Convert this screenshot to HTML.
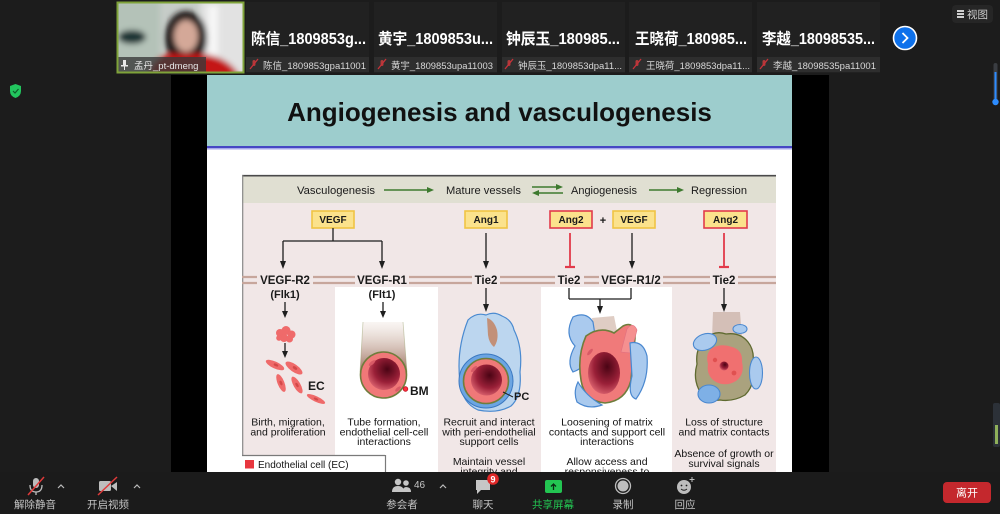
<!DOCTYPE html>
<html><head><meta charset="utf-8">
<style>
html,body{margin:0;padding:0;background:#1c1c1c;}
body{width:1000px;height:514px;overflow:hidden;position:relative;}
svg{position:absolute;left:0;top:0;display:block;}
text{font-family:"Liberation Sans","Noto Sans CJK SC",sans-serif;}
</style></head>
<body>
<svg width="1000" height="514" viewBox="0 0 1000 514" xmlns="http://www.w3.org/2000/svg">
<defs>
 <filter id="blur" x="-20%" y="-20%" width="140%" height="140%"><feGaussianBlur stdDeviation="3"/></filter>
 <filter id="blur1"><feGaussianBlur stdDeviation="0.6"/></filter>
 <linearGradient id="tubeG" x1="0" y1="0" x2="0" y2="1">
  <stop offset="0" stop-color="#d8c0b0" stop-opacity="0.15"/>
  <stop offset="1" stop-color="#9a6e5e"/>
 </linearGradient>
 <radialGradient id="lumen" cx="0.6" cy="0.35" r="0.75">
  <stop offset="0" stop-color="#4a0414"/>
  <stop offset="0.55" stop-color="#9a2038"/>
  <stop offset="1" stop-color="#e8707a"/>
 </radialGradient>
 <clipPath id="camclip"><rect x="118" y="3" width="125" height="69"/></clipPath>
</defs>

<!-- page bg -->
<rect x="0" y="0" width="1000" height="514" fill="#1c1c1c"/>

<!-- ===== Top video strip ===== -->
<g clip-path="url(#camclip)">
 <rect x="118" y="3" width="125" height="69" fill="#c6ccc8"/>
 <g filter="url(#blur)">
  <rect x="112" y="0" width="48" height="75" fill="#b4c2b8"/>
  <ellipse cx="132" cy="37" rx="14" ry="7" fill="#1b3434"/>
  <rect x="200" y="0" width="46" height="75" fill="#e2e2e2"/>
  <rect x="208" y="6" width="10" height="50" fill="#f6f6f6"/>
  <ellipse cx="186" cy="38" rx="21" ry="27" fill="#1a1212"/>
  <ellipse cx="186" cy="36" rx="12" ry="16" fill="#d4a898"/>
  <path d="M148 76 Q152 56 170 54 L202 54 Q228 56 240 76 Z" fill="#c41818"/>
 </g>
 <rect x="118" y="57" width="88" height="15" fill="#3a3a3a" opacity="0.8"/>
</g>
<rect x="117.5" y="2.5" width="126" height="70" fill="none" stroke="#7fa33a" stroke-width="2"/>
<rect x="123" y="60" width="3" height="6" fill="#e8e8e8"/><rect x="121" y="65" width="7" height="1.5" fill="#e8e8e8"/><rect x="124" y="66" width="1" height="4" fill="#e8e8e8"/>
<text x="134" y="69" font-size="9.5" fill="#e6e6e6">孟丹_pt-dmeng</text>

<!-- other tiles -->
<g>
 <rect x="246" y="2" width="123" height="71" fill="#212121"/>
 <rect x="374" y="2" width="123" height="71" fill="#212121"/>
 <rect x="502" y="2" width="123" height="71" fill="#212121"/>
 <rect x="629" y="2" width="123" height="71" fill="#212121"/>
 <rect x="757" y="2" width="123" height="71" fill="#212121"/>
 <rect x="246" y="57" width="123" height="15" fill="#2e2e2e"/>
 <rect x="374" y="57" width="123" height="15" fill="#2e2e2e"/>
 <rect x="502" y="57" width="123" height="15" fill="#2e2e2e"/>
 <rect x="629" y="57" width="123" height="15" fill="#2e2e2e"/>
 <rect x="757" y="57" width="123" height="15" fill="#2e2e2e"/>
</g>
<g font-size="15.5" font-weight="bold" fill="#ffffff">
 <text x="251" y="44" textLength="115" lengthAdjust="spacingAndGlyphs">陈信_1809853g...</text>
 <text x="378" y="44" textLength="115" lengthAdjust="spacingAndGlyphs">黄宇_1809853u...</text>
 <text x="506" y="44" textLength="114" lengthAdjust="spacingAndGlyphs">钟辰玉_180985...</text>
 <text x="635" y="44" textLength="112" lengthAdjust="spacingAndGlyphs">王晓荷_180985...</text>
 <text x="762" y="44" textLength="113" lengthAdjust="spacingAndGlyphs">李越_18098535...</text>
</g>
<!-- muted mic icons on tiles -->
<g stroke="#c8323a" stroke-width="1.3" fill="none">
 <g transform="translate(254,64)"><rect x="-1.5" y="-4" width="3" height="6" rx="1.5" fill="#b03a3a" stroke="none"/><line x1="-4" y1="5" x2="4" y2="-5"/></g>
 <g transform="translate(382,64)"><rect x="-1.5" y="-4" width="3" height="6" rx="1.5" fill="#b03a3a" stroke="none"/><line x1="-4" y1="5" x2="4" y2="-5"/></g>
 <g transform="translate(509,64)"><rect x="-1.5" y="-4" width="3" height="6" rx="1.5" fill="#b03a3a" stroke="none"/><line x1="-4" y1="5" x2="4" y2="-5"/></g>
 <g transform="translate(637,64)"><rect x="-1.5" y="-4" width="3" height="6" rx="1.5" fill="#b03a3a" stroke="none"/><line x1="-4" y1="5" x2="4" y2="-5"/></g>
 <g transform="translate(764,64)"><rect x="-1.5" y="-4" width="3" height="6" rx="1.5" fill="#b03a3a" stroke="none"/><line x1="-4" y1="5" x2="4" y2="-5"/></g>
</g>
<g font-size="9.5" fill="#d8d8d8">
 <text x="263" y="69" textLength="103" lengthAdjust="spacingAndGlyphs">陈信_1809853gpa11001</text>
 <text x="391" y="69" textLength="102" lengthAdjust="spacingAndGlyphs">黄宇_1809853upa11003</text>
 <text x="518" y="69" textLength="104" lengthAdjust="spacingAndGlyphs">钟辰玉_1809853dpa11...</text>
 <text x="646" y="69" textLength="104" lengthAdjust="spacingAndGlyphs">王晓荷_1809853dpa11...</text>
 <text x="773" y="69" textLength="103" lengthAdjust="spacingAndGlyphs">李越_18098535pa11001</text>
</g>
<!-- next button -->
<circle cx="905" cy="38" r="11.5" fill="#0e71eb" stroke="#ffffff" stroke-width="1.6"/>
<path d="M902.5 33 L907.5 38 L902.5 43" fill="none" stroke="#fff" stroke-width="1.8"/>
<!-- view button -->
<rect x="952" y="5" width="41" height="18" rx="4" fill="#262626"/>
<g fill="#cfcfcf"><rect x="957" y="10" width="7" height="2"/><rect x="957" y="13" width="7" height="2"/><rect x="957" y="16" width="7" height="2"/></g>
<text x="967" y="18" font-size="10.5" fill="#cfcfcf">视图</text>
<!-- right slider -->
<rect x="993.5" y="63" width="4" height="42" rx="2" fill="#3a3d42"/>
<rect x="994.5" y="72" width="2" height="31" fill="#2d8cff"/>
<circle cx="995.5" cy="102" r="3.2" fill="#2d8cff"/>
<rect x="993" y="403" width="7" height="44" rx="2" fill="#2c3138"/>
<rect x="995" y="425" width="3" height="19" fill="#8fb05a"/>
<!-- shield -->
<path d="M10 86 L15.5 84 L21 86 L21 91 Q21 96 15.5 98 Q10 96 10 91 Z" fill="#22c55e"/>
<path d="M13 91 L15 93 L18.5 89" fill="none" stroke="#0f5a2a" stroke-width="1.2"/>

<!-- ===== Slide area ===== -->
<rect x="171" y="75" width="658" height="397" fill="#000"/>
<rect x="207" y="75" width="585" height="397" fill="#ffffff"/>
<rect x="207" y="75" width="585" height="71" fill="#9dcdcd"/>
<rect x="207" y="146" width="585" height="2" fill="#4646c4"/>
<rect x="207" y="148" width="585" height="1.5" fill="#a6a6ea"/>
<text x="499.5" y="121" font-size="26" font-weight="bold" fill="#111" text-anchor="middle">Angiogenesis and vasculogenesis</text>

<!-- diagram box -->
<rect x="242" y="175" width="534" height="28" fill="#e0dfd2"/>
<rect x="242" y="203" width="534" height="269" fill="#f1e7e7"/>
<rect x="335" y="287" width="103" height="185" fill="#ffffff"/>
<rect x="541" y="287" width="131" height="185" fill="#ffffff"/>
<rect x="242" y="455" width="93" height="17" fill="#ffffff"/>
<line x1="242" y1="175.7" x2="776" y2="175.7" stroke="#4a4a4a" stroke-width="1.6"/>
<line x1="242.7" y1="175" x2="242.7" y2="455" stroke="#8a8a8a" stroke-width="1.2"/>
<line x1="242" y1="455.5" x2="385" y2="455.5" stroke="#7a7a7a" stroke-width="1.2"/>
<line x1="385.5" y1="455" x2="385.5" y2="472" stroke="#7a7a7a" stroke-width="1.2"/>

<!-- header texts -->
<g font-size="11" fill="#1a1a1a">
 <text x="297" y="194" textLength="78" lengthAdjust="spacingAndGlyphs">Vasculogenesis</text>
 <text x="446" y="194" textLength="75" lengthAdjust="spacingAndGlyphs">Mature vessels</text>
 <text x="571" y="194" textLength="66" lengthAdjust="spacingAndGlyphs">Angiogenesis</text>
 <text x="691" y="194" textLength="56" lengthAdjust="spacingAndGlyphs">Regression</text>
</g>
<g stroke="#3d7a2e" stroke-width="1.6" fill="#3d7a2e">
 <line x1="384" y1="190" x2="428" y2="190"/><polygon points="434,190 427,187 427,193" stroke="none"/>
 <line x1="532" y1="187" x2="557" y2="187"/><polygon points="563,187 556,184 556,190" stroke="none"/>
 <line x1="538" y1="193" x2="563" y2="193"/><polygon points="532,193 539,190 539,196" stroke="none"/>
 <line x1="649" y1="190" x2="678" y2="190"/><polygon points="684,190 677,187 677,193" stroke="none"/>
</g>

<!-- ligand boxes -->
<g stroke-width="1.6">
 <rect x="312" y="211" width="42" height="17" fill="#fbe28c" stroke="#f0c444"/>
 <rect x="465" y="211" width="42" height="17" fill="#fbe28c" stroke="#f0c444"/>
 <rect x="550" y="211" width="42" height="17" fill="#fbe28c" stroke="#e23b4b"/>
 <rect x="613" y="211" width="42" height="17" fill="#fbe28c" stroke="#f0c444"/>
 <rect x="704" y="211" width="43" height="17" fill="#fbe28c" stroke="#e23b4b"/>
</g>
<g font-size="10" font-weight="bold" fill="#1a1a1a" text-anchor="middle">
 <text x="333" y="223">VEGF</text>
 <text x="486" y="223">Ang1</text>
 <text x="571" y="223">Ang2</text>
 <text x="634" y="223">VEGF</text>
 <text x="725.5" y="223">Ang2</text>
</g>
<text x="603" y="224" font-size="11" font-weight="bold" fill="#1a1a1a" text-anchor="middle">+</text>

<!-- arrows to receptors -->
<g stroke="#1e1e1e" stroke-width="1.3" fill="none">
 <line x1="333" y1="228" x2="333" y2="241"/>
 <line x1="283" y1="241" x2="382" y2="241"/>
 <line x1="283" y1="241" x2="283" y2="262"/>
 <line x1="382" y1="241" x2="382" y2="262"/>
 <line x1="486" y1="233" x2="486" y2="262"/>
 <line x1="632" y1="233" x2="632" y2="262"/>
</g>
<g fill="#1e1e1e">
 <polygon points="283,269 280,261 286,261"/>
 <polygon points="382,269 379,261 385,261"/>
 <polygon points="486,269 483,261 489,261"/>
 <polygon points="632,269 629,261 635,261"/>
</g>
<g stroke="#e23b4b" stroke-width="1.8">
 <line x1="570" y1="233" x2="570" y2="267"/><line x1="565" y1="267" x2="575" y2="267" stroke-width="2.2"/>
 <line x1="724" y1="233" x2="724" y2="267"/><line x1="719" y1="267" x2="729" y2="267" stroke-width="2.2"/>
</g>

<!-- membrane -->
<g stroke="#c7a69c" stroke-width="2.2">
 <line x1="242" y1="277" x2="776" y2="277"/>
 <line x1="242" y1="283" x2="776" y2="283"/>
</g>
<g fill="#f1e7e7">
 <rect x="257" y="273" width="56" height="14"/>
 <rect x="355" y="273" width="54" height="14"/>
 <rect x="472" y="273" width="28" height="14"/>
 <rect x="555" y="273" width="29" height="14"/>
 <rect x="599" y="273" width="64" height="14"/>
 <rect x="710" y="273" width="28" height="14"/>
</g>
<g font-size="11.5" font-weight="bold" fill="#1a1a1a" text-anchor="middle">
 <text x="285" y="284">VEGF-R2</text>
 <text x="382" y="284">VEGF-R1</text>
 <text x="486" y="284">Tie2</text>
 <text x="569" y="284">Tie2</text>
 <text x="631" y="284">VEGF-R1/2</text>
 <text x="724" y="284">Tie2</text>
</g>
<g font-size="11" font-weight="bold" fill="#1a1a1a" text-anchor="middle">
 <text x="285" y="298">(Flk1)</text>
 <text x="382" y="298">(Flt1)</text>
</g>

<!-- lower arrows -->
<g stroke="#1e1e1e" stroke-width="1.3" fill="none">
 <line x1="285" y1="302" x2="285" y2="312"/>
 <line x1="285" y1="343" x2="285" y2="352"/>
 <line x1="383" y1="302" x2="383" y2="312"/>
 <line x1="486" y1="288" x2="486" y2="305"/>
 <line x1="569" y1="288" x2="569" y2="299"/>
 <line x1="631" y1="288" x2="631" y2="299"/>
 <line x1="569" y1="299" x2="631" y2="299"/>
 <line x1="600" y1="299" x2="600" y2="307"/>
 <line x1="724" y1="288" x2="724" y2="305"/>
</g>
<g fill="#1e1e1e">
 <polygon points="285,318 282,311 288,311"/>
 <polygon points="285,358 282,351 288,351"/>
 <polygon points="383,318 380,311 386,311"/>
 <polygon points="486,312 483,304 489,304"/>
 <polygon points="600,314 597,306 603,306"/>
 <polygon points="724,312 721,304 727,304"/>
</g>

<!-- Column 1: endothelial cells -->
<g fill="#ef6a6a">
 <circle cx="280" cy="333" r="4"/><circle cx="286" cy="330.5" r="4.5"/><circle cx="291.5" cy="334.5" r="4"/>
 <circle cx="284" cy="338" r="4"/><circle cx="289.5" cy="339" r="3.5"/><circle cx="279" cy="338" r="2.8"/>
 <ellipse cx="275" cy="365" rx="10" ry="3.4" transform="rotate(25 275 365)"/>
 <ellipse cx="294" cy="368" rx="10" ry="3.8" transform="rotate(35 294 368)"/>
 <ellipse cx="281" cy="383" rx="9.5" ry="3.4" transform="rotate(68 281 383)"/>
 <ellipse cx="297" cy="385" rx="9.5" ry="3.4" transform="rotate(60 297 385)"/>
 <ellipse cx="316" cy="399" rx="10" ry="2.8" transform="rotate(25 316 399)"/>
</g>
<g fill="#d34848">
 <ellipse cx="276" cy="365" rx="2.5" ry="1.3" transform="rotate(25 276 365)"/>
 <ellipse cx="295" cy="368" rx="2.5" ry="1.4" transform="rotate(35 295 368)"/>
 <ellipse cx="281" cy="383" rx="2.4" ry="1.3" transform="rotate(68 281 383)"/>
 <ellipse cx="297" cy="385" rx="2.4" ry="1.3" transform="rotate(60 297 385)"/>
 <ellipse cx="316" cy="399" rx="2.4" ry="1.1" transform="rotate(25 316 399)"/>
</g>
<text x="308" y="390" font-size="12" font-weight="bold" fill="#1a1a1a">EC</text>

<!-- Column 2: tube -->
<path d="M363 322 L403 322 L407 372 L360 372 Z" fill="url(#tubeG)"/>
<line x1="363" y1="322" x2="360" y2="372" stroke="#9aa070" stroke-width="0.8" opacity="0.5"/>
<line x1="403" y1="322" x2="407" y2="372" stroke="#9aa070" stroke-width="0.8" opacity="0.5"/>
<circle cx="383.5" cy="375" r="23" fill="#f07878" stroke="#6f7d3c" stroke-width="1.6"/>
<circle cx="384" cy="374" r="16" fill="url(#lumen)"/>
<ellipse cx="372" cy="363" rx="4" ry="1.6" fill="#d85a66" transform="rotate(-40 372 363)"/>
<ellipse cx="398" cy="389" rx="3.5" ry="1.6" fill="#d85a66" transform="rotate(-40 398 389)"/>
<circle cx="405.5" cy="389" r="2.3" fill="#ff3040" stroke="#c01020" stroke-width="0.8"/>
<text x="410" y="395" font-size="12" font-weight="bold" fill="#1a1a1a">BM</text>

<!-- Column 3: pericyte-covered vessel -->
<path d="M468 320 Q476 312 486 315 Q494 311 502 316 Q512 320 514 330 Q523 348 520 372 Q522 396 511 406 Q497 414 478 410 Q462 403 460 382 Q456 350 468 320 Z" fill="#bcd6ef" stroke="#4a8ad0" stroke-width="1.2"/>
<path d="M487 318 Q494 320 497 330 Q499 340 494 347 Q489 343 488 335 Z" fill="#c29078"/>
<circle cx="486" cy="381" r="27" fill="#6ba5e2" stroke="#3b78c0" stroke-width="1"/>
<circle cx="486" cy="381" r="22.5" fill="#f07878" stroke="#6f7d3c" stroke-width="1.6"/>
<circle cx="486.5" cy="380" r="15.5" fill="url(#lumen)"/>
<ellipse cx="474" cy="369" rx="4" ry="1.6" fill="#d85a66" transform="rotate(-45 474 369)"/>
<path d="M503 392 L513 397" stroke="#1a1a1a" stroke-width="1"/>
<text x="514" y="400" font-size="11" font-weight="bold" fill="#1a1a1a">PC</text>

<!-- Column 4: loosening vessel -->
<path d="M592 318 L614 316 L618 336 L595 338 Z" fill="#c4a494" opacity="0.55"/>
<path d="M573 317 Q586 311 593 322 L597 348 Q589 366 573 372 Q566 362 575 346 Q564 334 573 317 Z" fill="#aacaee" stroke="#4a88d0" stroke-width="1.2"/>
<path d="M586 336 Q600 326 614 333 L623 326 Q635 320 635 338 L631 380 Q626 401 605 403 Q584 401 581 380 Q577 356 586 336 Z" fill="#f07a7a" stroke="#6f7d3c" stroke-width="1.6"/>
<ellipse cx="604" cy="373" rx="16" ry="21" fill="url(#lumen)"/>
<path d="M621 352 L627 329 Q633 321 637 330 L631 353 Z" fill="#f59090" stroke="#e07080" stroke-width="0.6"/>
<path d="M630 343 Q643 340 647 356 Q649 381 636 399 Q627 396 632 376 Z" fill="#aacaee" stroke="#4a88d0" stroke-width="1.2"/>
<path d="M578 382 Q586 396 602 405 Q588 410 577 402 Q573 392 578 382 Z" fill="#aacaee" stroke="#4a88d0" stroke-width="1.2"/>
<ellipse cx="590" cy="352" rx="4" ry="1.6" fill="#d85a66" transform="rotate(-50 590 352)"/>

<!-- Column 5: regressing vessel -->
<path d="M713 312 L740 312 L742 338 L712 338 Z" fill="#b89888" opacity="0.5"/>
<path d="M706 338 Q715 330 726 334 Q740 332 748 342 Q756 352 752 368 Q756 384 745 395 Q733 402 720 400 Q705 402 699 390 Q693 378 697 364 Q695 348 706 338 Z" fill="#aaa27e" stroke="#5f6a30" stroke-width="1.3"/>
<path d="M712 348 Q722 343 732 347 Q743 350 742 362 Q745 374 736 381 Q726 387 716 382 Q706 376 708 364 Q705 354 712 348 Z" fill="#f07070"/>
<circle cx="724" cy="366" r="4.5" fill="url(#lumen)"/>
<circle cx="715" cy="360" r="2.2" fill="#e05050"/><circle cx="734" cy="373" r="2.4" fill="#e05050"/>
<ellipse cx="705" cy="342" rx="12" ry="8" fill="#aacaee" stroke="#4a88d0" stroke-width="1.1" transform="rotate(-20 705 342)"/>
<ellipse cx="740" cy="329" rx="7" ry="4.5" fill="#aacaee" stroke="#4a88d0" stroke-width="1.1"/>
<ellipse cx="756" cy="373" rx="6.5" ry="16" fill="#aacaee" stroke="#4a88d0" stroke-width="1.1"/>
<ellipse cx="709" cy="394" rx="11" ry="9" fill="#7eb0e6" stroke="#4a88d0" stroke-width="1.1"/>

<!-- captions -->
<g font-size="10.5" fill="#141414" text-anchor="middle">
 <text x="288" y="425.5">Birth, migration,</text>
 <text x="288" y="435.5">and proliferation</text>
 <text x="384" y="425.5">Tube formation,</text>
 <text x="384" y="435.5">endothelial cell-cell</text>
 <text x="384" y="445">interactions</text>
 <text x="489" y="425.5">Recruit and interact</text>
 <text x="489" y="435.5">with peri-endothelial</text>
 <text x="489" y="445">support cells</text>
 <text x="489" y="465">Maintain vessel</text>
 <text x="489" y="475">integrity and</text>
 <text x="607" y="425.5">Loosening of matrix</text>
 <text x="607" y="435.5">contacts and support cell</text>
 <text x="607" y="445">interactions</text>
 <text x="607" y="465">Allow access and</text>
 <text x="607" y="475">responsiveness to</text>
 <text x="724" y="425.5">Loss of structure</text>
 <text x="724" y="435.5">and matrix contacts</text>
 <text x="724" y="457">Absence of growth or</text>
 <text x="724" y="467">survival signals</text>
</g>
<!-- legend -->
<rect x="245" y="460" width="9" height="8.5" fill="#e8373f"/>
<text x="258" y="468" font-size="10" fill="#141414">Endothelial cell (EC)</text>

<!-- ===== Bottom toolbar ===== -->
<rect x="0" y="472" width="1000" height="42" fill="#1b1b1b"/>
<!-- mic -->
<g>
 <rect x="33" y="478" width="6" height="10" rx="3" fill="#bdbdbd"/>
 <path d="M30 485 Q30 492 36 492 Q42 492 42 485" fill="none" stroke="#bdbdbd" stroke-width="1.3"/>
 <line x1="36" y1="492" x2="36" y2="495" stroke="#bdbdbd" stroke-width="1.3"/>
 <line x1="28" y1="495" x2="44" y2="477" stroke="#e03a3a" stroke-width="1.5"/>
</g>
<path d="M58 488 L61 485 L64 488" fill="none" stroke="#bbb" stroke-width="1.2"/>
<!-- video -->
<g>
 <rect x="99" y="481" width="12" height="10" rx="1.5" fill="#bdbdbd"/>
 <polygon points="111,486 117,482 117,491" fill="#bdbdbd"/>
 <line x1="98" y1="495" x2="117" y2="477" stroke="#e03a3a" stroke-width="1.5"/>
</g>
<path d="M134 488 L137 485 L140 488" fill="none" stroke="#bbb" stroke-width="1.2"/>
<!-- participants -->
<g fill="#c6c6c6">
 <circle cx="398" cy="482" r="3.2"/><path d="M392 492 Q392 486 398 486 Q404 486 404 492 Z"/>
 <circle cx="406" cy="483" r="2.8"/><path d="M402 492 Q403 487 406 487 Q411 487 411 492 Z"/>
</g>
<text x="414" y="488" font-size="10" fill="#c6c6c6">46</text>
<path d="M440 488 L443 485 L446 488" fill="none" stroke="#bbb" stroke-width="1.2"/>
<!-- chat -->
<path d="M476 480 L490 480 L490 490 L481 490 L477 494 L477 490 L476 490 Z" fill="#c6c6c6"/>
<circle cx="493" cy="479" r="5.8" fill="#e02828"/>
<text x="493" y="482.5" font-size="9" font-weight="bold" fill="#fff" text-anchor="middle">9</text>
<!-- share -->
<rect x="545" y="480" width="17" height="13" rx="2" fill="#23c552"/>
<path d="M553.5 490 L553.5 484 M551 486.5 L553.5 484 L556 486.5" fill="none" stroke="#0a2a14" stroke-width="1.3"/>
<!-- record -->
<circle cx="623" cy="486" r="7.5" fill="none" stroke="#bdbdbd" stroke-width="1.3"/>
<circle cx="623" cy="486" r="5.5" fill="#bdbdbd"/>
<!-- reactions -->
<circle cx="684" cy="487" r="7" fill="#bdbdbd"/>
<circle cx="681.5" cy="485.5" r="0.9" fill="#1b1b1b"/><circle cx="686.5" cy="485.5" r="0.9" fill="#1b1b1b"/>
<path d="M681 489 Q684 491.5 687 489" fill="none" stroke="#1b1b1b" stroke-width="0.9"/>
<path d="M692 477 L692 482 M689.5 479.5 L694.5 479.5" stroke="#bdbdbd" stroke-width="1"/>
<!-- labels -->
<g font-size="10.5" fill="#c4c4c4" text-anchor="middle">
 <text x="35" y="508">解除静音</text>
 <text x="108" y="508">开启视频</text>
 <text x="402" y="508">参会者</text>
 <text x="483" y="508">聊天</text>
 <text x="553" y="508" fill="#23c552">共享屏幕</text>
 <text x="623" y="508">录制</text>
 <text x="685" y="508">回应</text>
</g>
<!-- leave -->
<rect x="943" y="482" width="48" height="21" rx="4" fill="#c4282d"/>
<text x="967" y="496.5" font-size="11" fill="#ffffff" text-anchor="middle">离开</text>
</svg>
</body></html>
